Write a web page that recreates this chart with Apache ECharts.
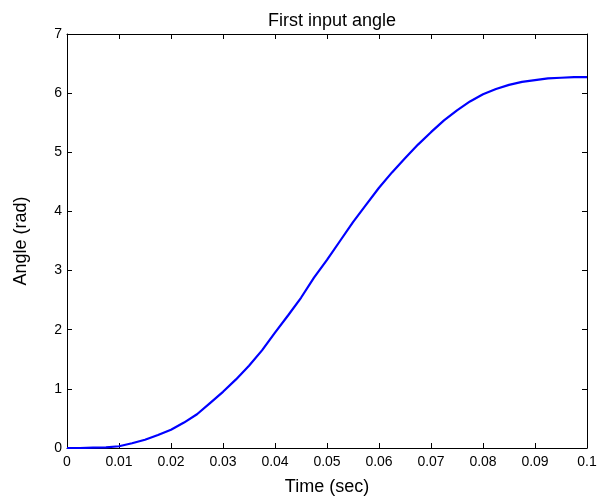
<!DOCTYPE html>
<html>
<head>
<meta charset="utf-8">
<script src="https://cdn.jsdelivr.net/npm/echarts@6/dist/echarts.min.js"></script>
<style>html,body{margin:0;padding:0;background:#fff}#c{width:602px;height:498px}</style>
</head>
<body>
<div id="c"></div>
<script>
const timeSec = [0,0.0025,0.005,0.0075,0.01,0.0125,0.015,0.0175,0.02,0.0225,0.025,0.0275,0.03,0.0325,0.035,0.0375,0.04,0.0425,0.045,0.0475,0.05,0.0525,0.055,0.0575,0.06,0.0625,0.065,0.0675,0.07,0.0725,0.075,0.0775,0.08,0.0825,0.085,0.0875,0.09,0.0925,0.095,0.0975,0.1];
const angleRad = [0,0,0.005,0.01,0.03,0.08,0.14,0.22,0.31,0.43,0.57,0.76,0.95,1.16,1.39,1.65,1.95,2.24,2.54,2.88,3.18,3.50,3.82,4.11,4.40,4.66,4.90,5.13,5.34,5.54,5.71,5.86,5.98,6.07,6.14,6.19,6.22,6.25,6.26,6.27,6.27];
const titleText = 'First input angle';
const xName = 'Time (sec)';
const yName = 'Angle (rad)';

const font = 'Liberation Sans, Arial, Helvetica, sans-serif';
const chart = echarts.init(document.getElementById('c'), null, {renderer:'canvas'});
const axisCommon = {
  axisLine:{show:true, onZero:false, lineStyle:{color:'#000', width:1}},
  axisTick:{show:true, inside:true, length:5, lineStyle:{color:'#000'}},
  splitLine:{show:false}
};
chart.setOption({
  animation:false,
  backgroundColor:'#fff',
  title:{text:titleText, left:327, textAlign:'center', top:7, textStyle:{fontFamily:font, fontWeight:'normal', fontSize:18, color:'#000'}},
  grid:{left:67, right:15, top:34, bottom:50, containLabel:false, outerBoundsMode:'none'},
  xAxis:[
    Object.assign({type:'value', position:'bottom', min:0, max:0.1, interval:0.01,
      name:xName, nameLocation:'middle', nameGap:30,
      nameTextStyle:{fontFamily:font, fontSize:18, color:'#000'},
      axisLabel:{fontFamily:font, fontSize:14, color:'#000', margin:7,
        formatter:v=>String(parseFloat(v.toFixed(2)))}}, axisCommon),
    Object.assign({type:'value', position:'top', min:0, max:0.1, interval:0.01,
      axisLabel:{show:false}}, axisCommon)
  ],
  yAxis:[
    Object.assign({type:'value', position:'left', min:0, max:7, interval:1,
      name:yName, nameLocation:'middle', nameGap:37, nameRotate:90,
      nameTextStyle:{fontFamily:font, fontSize:18, color:'#000'},
      axisLabel:{fontFamily:font, fontSize:14, color:'#000', margin:5}}, axisCommon),
    Object.assign({type:'value', position:'right', min:0, max:7, interval:1,
      axisLabel:{show:false}}, axisCommon)
  ],
  series:[{
    type:'line', xAxisIndex:0, yAxisIndex:0,
    data: timeSec.map((t,i)=>[t, angleRad[i]]),
    showSymbol:false, symbol:'none', smooth:false,
    lineStyle:{color:'#0000ff', width:2.2}
  }]
});
</script>
</body>
</html>
